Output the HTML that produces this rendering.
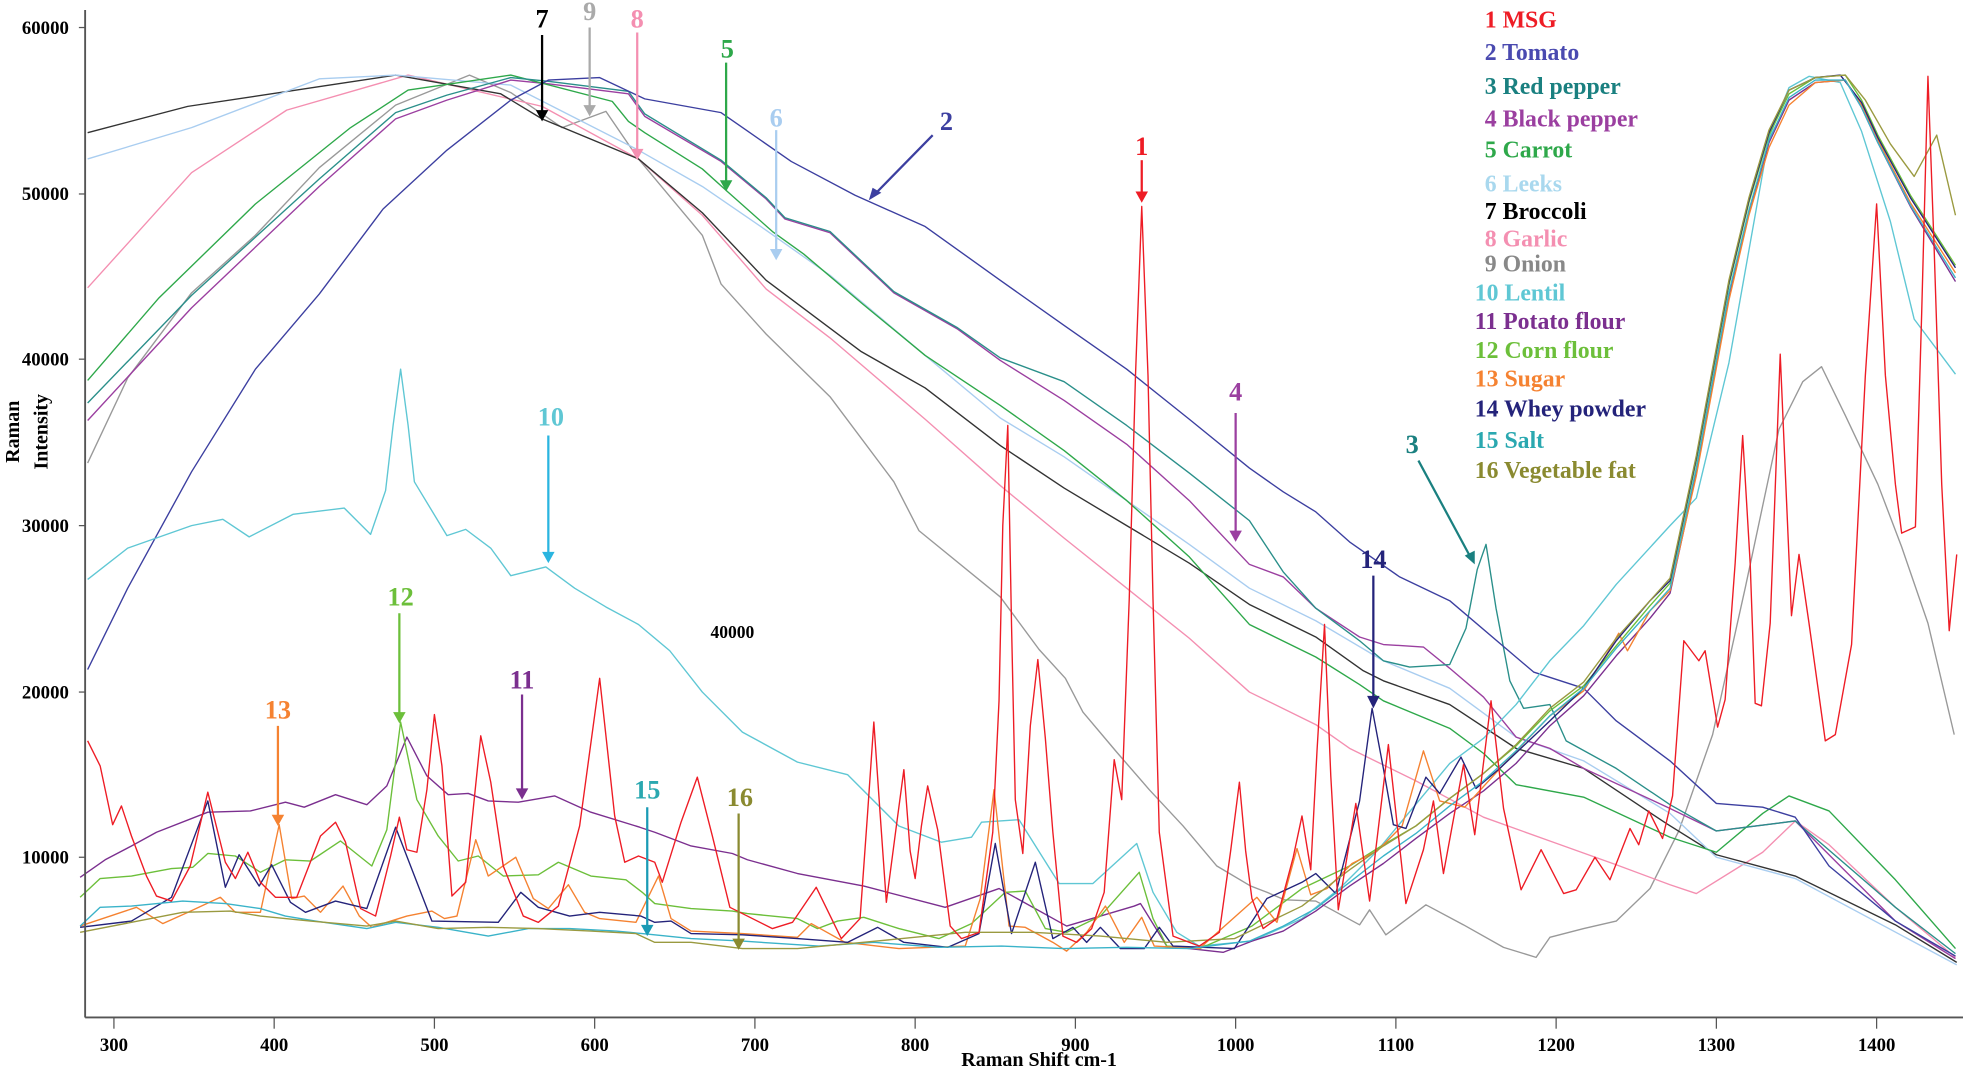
<!DOCTYPE html>
<html><head><meta charset="utf-8"><style>
html,body{margin:0;padding:0;background:#fff;}
svg{display:block;}
text{font-family:"Liberation Serif",serif;font-weight:bold;}
</style></head><body>
<svg width="1963" height="1070" viewBox="0 0 1568 855" preserveAspectRatio="none" xmlns="http://www.w3.org/2000/svg">
<rect width="1568" height="855" fill="#fff"/>
<g fill="none" stroke-width="1.1" stroke-linejoin="round">
<!-- Onion gray -->
<polyline stroke="#999" points="70,370 102,302 153,234 204,188 255,134 316,84 375,60 408,74 449,102 484,89 510,127 561,188 576,227 612,267 663,317 714,385 734,424 799,477 830,519 851,542 865,569 892,601 918,631 945,660 972,692 999,708 1012,713 1026,719 1051,720 1086,739 1094,727 1107,747 1139,723 1169,739 1201,757 1227,765 1238,749 1265,742 1291,736 1318,710 1341,664 1368,587 1394,470 1421,343 1440,305 1455,293 1474,332 1500,387 1519,437 1540,498 1561,587"/>
<!-- Garlic pink -->
<polyline stroke="#f48fb1" points="70,230 153,138 229,88 326,60 433,85 510,127 561,172 612,231 663,270 739,335 799,388 850,430 900,470 950,510 998,553 1051,579 1078,598 1131,624 1185,653 1238,672 1291,691 1334,707 1355,714 1408,681 1434,656 1461,675 1514,725 1562,765"/>
<!-- Broccoli black -->
<polyline stroke="#333" points="70,106 150,85 250,70 316,60 400,75 433,95 510,127 561,170 612,224 688,281 739,310 799,356 850,390 900,420 950,450 998,483 1051,509 1089,536 1105,544 1158,563 1211,598 1265,614 1331,658 1371,683 1434,700 1514,739 1563,769"/>
<!-- Leeks light blue -->
<polyline stroke="#a9cdf0" points="70,127 153,102 255,63 316,60 408,68 510,120 561,149 612,184 663,220 739,284 799,334 850,365 900,400 950,435 998,470 1051,496 1105,528 1158,550 1211,589 1265,608 1334,650 1371,685 1434,702 1563,771"/>
<!-- Black pepper purple -->
<polyline stroke="#9b3fa0" points="70,336 153,246 255,149 316,95 357,80 408,64 438,67 502,75 515,93 576,129 612,159 627,175 663,186 714,234 765,263 799,288 850,320 900,355 950,400 998,451 1025,461 1051,486 1086,509 1105,515 1137,517 1158,534 1185,557 1211,589 1238,598 1265,614 1334,646 1371,664 1434,656 1514,736 1562,766"/>
<!-- Carrot green -->
<polyline stroke="#2ea84a" points="70,304 127,238 204,163 280,102 326,72 408,60 489,81 502,97 515,106 561,135 581,153 617,185 642,203 688,242 739,284 799,324 850,360 900,400 950,445 998,499 1051,525 1086,547 1105,560 1158,582 1185,602 1211,627 1265,637 1334,669 1371,681 1408,650 1429,636 1461,648 1514,703 1562,758"/>
<!-- Red pepper teal -->
<polyline stroke="#2a8f8a" points="70,322 153,236 255,143 316,90 357,76 408,62 438,65 502,73 515,91 576,128 612,158 627,174 663,185 714,233 765,262 799,286 850,305 900,340 950,378 998,416 1025,457 1051,486 1086,512 1105,528 1126,533 1158,531 1171,502 1180,455 1187,435 1195,486 1206,544 1217,566 1238,563 1251,592 1291,614 1334,643 1371,664 1434,656 1514,725 1562,762"/>
<!-- Tomato dark blue -->
<polyline stroke="#3c3fa0" points="70,535 102,470 153,377 204,295 255,235 306,167 357,120 408,80 438,64 479,62 515,79 576,90 632,129 683,156 739,181 799,224 850,260 900,295 950,335 998,374 1025,393 1051,409 1078,433 1118,461 1158,480 1225,537 1265,550 1291,576 1334,608 1371,642 1408,645 1434,653 1461,692 1514,736 1562,764"/>
<!-- Lentil cyan -->
<polyline stroke="#5fc7d4" points="70,463 102,438 153,420 178,415 199,429 234,411 275,406 296,427 308,392 314,340 320,295 326,340 331,385 357,428 372,423 392,438 408,460 436,453 459,470 484,485 510,499 535,520 561,553 593,585 637,609 677,619 718,660 752,673 776,669 784,657 814,655 846,706 873,706 908,674 921,713 940,745 958,756 1000,752 1040,734 1070,710 1100,680 1158,610 1185,590 1211,563 1238,528 1265,500 1291,467 1334,420 1355,398 1381,290 1397,200 1413,110 1429,70 1445,61 1470,66 1487,105 1510,177 1529,255 1562,299"/>
<!-- Potato flour purple -->
<polyline stroke="#7b2f8f" points="64,701 84,687 105,676 125,665 166,649 200,648 228,641 243,645 268,635 293,643 309,628 325,589 341,620 358,635 374,634 390,640 414,641 443,636 472,649 511,661 523,665 552,676 585,682 597,687 637,698 690,708 709,713 755,725 798,710 852,740 906,724 911,722 932,756 977,761 1000,752 1025,744 1051,728 1078,708 1105,690 1131,670 1158,650 1185,632 1211,610 1238,580 1265,556 1291,524 1318,494 1334,474 1355,378 1381,236 1397,170 1413,114 1429,80 1450,66 1474,64 1487,86 1500,114 1526,165 1562,225"/>
<!-- Corn flour green -->
<polyline stroke="#6cbf3a" points="64,717 80,702 105,700 137,694 154,693 166,682 188,684 208,697 228,687 248,688 272,672 297,692 309,663 320,577 333,639 350,668 366,688 382,684 402,700 430,699 446,689 472,700 500,703 513,713 523,722 552,726 585,728 597,730 637,734 653,742 669,736 690,733 718,742 750,750 776,738 803,713 819,712 835,742 852,745 879,732 910,697 921,734 932,756 958,758 1000,740 1040,710 1078,692 1105,675 1131,660 1158,638 1185,618 1211,596 1238,568 1265,548 1291,516 1318,484 1334,466 1355,368 1381,228 1397,162 1413,108 1429,75 1450,62 1474,60 1487,80 1500,108 1526,156 1562,212"/>
<!-- Sugar orange -->
<polyline stroke="#f58231" points="64,740 109,725 130,738 150,729 176,717 188,729 208,729 223,659 233,718 243,716 256,729 274,708 287,732 297,741 309,737 325,732 345,728 355,734 365,732 380,671 390,700 412,685 426,718 438,726 454,707 467,729 479,734 508,737 526,700 536,734 552,744 593,746 637,749 648,738 675,753 718,758 771,756 783,718 794,631 806,740 819,741 841,753 852,760 868,745 883,724 898,753 912,733 922,756 958,758 1004,717 1020,737 1036,678 1047,715 1060,710 1080,690 1100,680 1120,660 1137,600 1150,640 1170,645 1200,612 1238,572 1265,552 1285,520 1293,506 1300,520 1318,488 1334,472 1355,380 1381,240 1397,172 1413,118 1429,84 1450,66 1474,64 1487,84 1500,112 1526,162 1562,218"/>
<!-- Whey navy -->
<polyline stroke="#24237a" points="64,741 105,736 137,717 166,640 180,709 191,683 207,708 217,691 232,721 244,729 268,720 293,726 316,661 333,705 345,736 398,737 416,713 430,725 455,732 479,729 512,732 523,737 536,736 552,746 593,747 637,750 677,753 701,741 722,753 757,757 782,746 795,674 808,746 827,689 841,750 857,741 868,753 879,741 895,758 914,758 926,741 937,756 986,758 1012,718 1040,705 1051,698 1067,714 1086,640 1096,566 1105,614 1113,659 1123,662 1139,621 1150,634 1167,605 1179,630 1198,614 1238,576 1265,550 1291,512 1318,480 1334,464 1355,366 1381,226 1397,160 1413,106 1429,72 1450,62 1470,60 1487,82 1500,110 1526,158 1562,214"/>
<!-- Salt sky blue -->
<polyline stroke="#3ab3c9" points="64,740 80,725 105,724 146,720 180,722 208,726 228,732 252,736 293,742 316,737 350,741 390,748 422,742 455,742 492,744 513,746 552,750 593,752 654,756 698,753 750,757 800,756 850,758 900,757 950,758 998,752 1025,740 1051,726 1078,705 1105,684 1131,666 1158,644 1185,624 1211,600 1238,572 1265,550 1291,518 1318,488 1334,470 1355,374 1381,234 1397,168 1413,112 1429,78 1450,64 1474,64 1487,86 1500,114 1526,164 1562,222"/>
<!-- Veg fat olive -->
<polyline stroke="#9a9a40" points="64,745 105,737 146,729 184,728 208,732 248,736 293,740 316,736 350,742 390,741 430,742 472,744 508,746 523,753 552,753 593,758 637,758 700,752 771,745 825,745 879,748 932,753 986,750 1040,724 1078,695 1105,676 1131,660 1158,638 1185,618 1211,595 1238,566 1265,545 1291,510 1318,480 1334,462 1355,364 1381,224 1397,158 1413,104 1429,72 1450,62 1474,60 1490,80 1510,115 1529,141 1547,108 1562,172"/>
<!-- MSG red -->
<polyline stroke="#ee1c25" points="70,592 80,612 90,659 97,644 105,668 117,700 125,716 137,720 152,692 166,633 180,689 188,702 198,681 208,705 220,717 237,717 256,668 268,657 276,673 288,726 300,732 312,684 319,653 325,679 333,681 341,631 347,571 353,612 361,716 372,705 384,588 392,625 402,692 418,732 430,737 446,724 463,660 479,542 491,652 499,689 510,684 523,689 529,705 544,657 557,621 569,668 583,725 597,732 617,742 633,737 652,709 672,750 687,734 693,650 698,577 703,650 708,721 716,660 722,615 727,680 731,702 736,660 741,628 749,663 759,740 768,750 782,745 793,665 798,560 801,420 805,340 808,500 811,639 817,682 823,580 829,527 835,590 841,665 849,748 860,753 872,742 882,713 890,607 896,639 902,479 907,300 912,165 917,300 921,479 926,665 937,748 958,756 974,745 983,680 990,625 995,680 1000,718 1009,742 1020,734 1033,685 1040,652 1047,695 1052,600 1058,499 1063,620 1069,727 1083,642 1094,720 1109,595 1123,722 1137,679 1145,640 1153,698 1169,611 1178,667 1191,560 1201,646 1215,711 1231,679 1249,714 1259,711 1274,685 1286,703 1302,662 1309,675 1317,648 1328,670 1336,636 1345,512 1357,528 1362,520 1372,581 1378,559 1386,450 1392,348 1398,450 1402,562 1407,564 1414,498 1422,283 1431,492 1437,443 1445,498 1458,592 1466,587 1479,515 1490,300 1499,163 1506,300 1514,387 1519,426 1530,421 1535,250 1540,61 1545,200 1551,387 1557,504 1563,443"/>
</g>
<!-- axes -->
<g stroke="#555" stroke-width="1.5" fill="none">
<line x1="68" y1="8" x2="68" y2="813"/>
<line x1="68" y1="813" x2="1568" y2="813"/>
</g>
<g stroke="#555" stroke-width="1">
<line x1="63" y1="22" x2="68" y2="22"/><line x1="63" y1="155" x2="68" y2="155"/><line x1="63" y1="287" x2="68" y2="287"/><line x1="63" y1="420" x2="68" y2="420"/><line x1="63" y1="553" x2="68" y2="553"/><line x1="63" y1="685" x2="68" y2="685"/>
<line x1="91" y1="813" x2="91" y2="822"/><line x1="219" y1="813" x2="219" y2="822"/><line x1="347" y1="813" x2="347" y2="822"/><line x1="475" y1="813" x2="475" y2="822"/><line x1="603" y1="813" x2="603" y2="822"/><line x1="731" y1="813" x2="731" y2="822"/><line x1="859" y1="813" x2="859" y2="822"/><line x1="987" y1="813" x2="987" y2="822"/><line x1="1115" y1="813" x2="1115" y2="822"/><line x1="1243" y1="813" x2="1243" y2="822"/><line x1="1371" y1="813" x2="1371" y2="822"/><line x1="1499" y1="813" x2="1499" y2="822"/>
</g>
<g font-size="15" fill="#000" text-anchor="end">
<text x="55" y="27">60000</text><text x="55" y="160">50000</text><text x="55" y="292">40000</text><text x="55" y="425">30000</text><text x="55" y="558">20000</text><text x="55" y="690">10000</text>
</g>
<g font-size="15" fill="#000" text-anchor="middle">
<text x="91" y="840">300</text><text x="219" y="840">400</text><text x="347" y="840">500</text><text x="475" y="840">600</text><text x="603" y="840">700</text><text x="731" y="840">800</text><text x="859" y="840">900</text><text x="987" y="840">1000</text><text x="1115" y="840">1100</text><text x="1243" y="840">1200</text><text x="1371" y="840">1300</text><text x="1499" y="840">1400</text>
<text x="830" y="852" font-size="16">Raman Shift cm-1</text>
</g>
<text transform="translate(15,345) rotate(-90)" font-size="16" text-anchor="middle">Raman</text>
<text transform="translate(38,345) rotate(-90)" font-size="16" text-anchor="middle">Intensity</text>
<text x="585" y="510" font-size="14" text-anchor="middle">40000</text>
<!-- arrows and labels -->
<g stroke-width="1.8" fill="none">
<line x1="433" y1="28" x2="433" y2="92" stroke="#000"/>
<line x1="471" y1="22" x2="471" y2="88" stroke="#aaa"/>
<line x1="509" y1="26" x2="509" y2="123" stroke="#f48fb1"/>
<line x1="580" y1="50" x2="580" y2="148" stroke="#2ea84a"/>
<line x1="620" y1="104" x2="620" y2="203" stroke="#a9cdf0"/>
<line x1="745" y1="108" x2="698" y2="156" stroke="#3c3fa0"/>
<line x1="912" y1="128" x2="912" y2="157" stroke="#ee1c25"/>
<line x1="987" y1="330" x2="987" y2="428" stroke="#9b3fa0"/>
<line x1="1133" y1="368" x2="1175" y2="446" stroke="#1a8080"/>
<line x1="1097" y1="460" x2="1097" y2="560" stroke="#24237a"/>
<line x1="438" y1="348" x2="438" y2="445" stroke="#2ab5e0"/>
<line x1="319" y1="490" x2="319" y2="573" stroke="#6cbf3a"/>
<line x1="417" y1="555" x2="417" y2="634" stroke="#7b2f8f"/>
<line x1="222" y1="580" x2="222" y2="655" stroke="#f58231"/>
<line x1="517" y1="645" x2="517" y2="743" stroke="#1a9bb5"/>
<line x1="590" y1="650" x2="590" y2="754" stroke="#8a8a30"/>
</g>
<g stroke="none">
<polygon fill="#000" points="428,88 438,88 433,97"/>
<polygon fill="#aaa" points="466,84 476,84 471,93"/>
<polygon fill="#f48fb1" points="504,119 514,119 509,128"/>
<polygon fill="#2ea84a" points="575,144 585,144 580,153"/>
<polygon fill="#a9cdf0" points="615,199 625,199 620,208"/>
<polygon fill="#3c3fa0" points="694,160 697,150 704,154"/>
<polygon fill="#ee1c25" points="907,153 917,153 912,162"/>
<polygon fill="#9b3fa0" points="982,424 992,424 987,433"/>
<polygon fill="#1a8080" points="1170,444 1178,440 1178,451"/>
<polygon fill="#24237a" points="1092,556 1102,556 1097,566"/>
<polygon fill="#2ab5e0" points="433,441 443,441 438,450"/>
<polygon fill="#6cbf3a" points="314,569 324,569 319,578"/>
<polygon fill="#7b2f8f" points="412,630 422,630 417,639"/>
<polygon fill="#f58231" points="217,651 227,651 222,660"/>
<polygon fill="#1a9bb5" points="512,739 522,739 517,748"/>
<polygon fill="#8a8a30" points="585,750 595,750 590,759"/>
</g>
<g font-size="21" text-anchor="middle">
<text x="433" y="22" fill="#000">7</text>
<text x="471" y="16" fill="#aaa">9</text>
<text x="509" y="22" fill="#f48fb1">8</text>
<text x="581" y="46" fill="#2ea84a">5</text>
<text x="620" y="101" fill="#a9cdf0">6</text>
<text x="756" y="104" fill="#3c3fa0">2</text>
<text x="912" y="124" fill="#ee1c25">1</text>
<text x="987" y="320" fill="#9b3fa0">4</text>
<text x="1128" y="362" fill="#1a8080">3</text>
<text x="1097" y="454" fill="#24237a">14</text>
<text x="440" y="340" fill="#5fc7d4">10</text>
<text x="320" y="484" fill="#6cbf3a">12</text>
<text x="417" y="550" fill="#7b2f8f">11</text>
<text x="222" y="574" fill="#f58231">13</text>
<text x="517" y="638" fill="#2aa8b0">15</text>
<text x="591" y="644" fill="#8a8a30">16</text>
</g>
<!-- legend -->
<g font-size="19">
<text x="1186" y="22" fill="#ee1c25">1 MSG</text>
<text x="1186" y="48" fill="#4a4ab0">2 Tomato</text>
<text x="1186" y="75" fill="#1a8080">3 Red pepper</text>
<text x="1186" y="101" fill="#9b3fa0">4 Black pepper</text>
<text x="1186" y="126" fill="#2ea84a">5 Carrot</text>
<text x="1186" y="153" fill="#a9d8ee">6 Leeks</text>
<text x="1186" y="175" fill="#000">7 Broccoli</text>
<text x="1186" y="197" fill="#f48fb1">8 Garlic</text>
<text x="1186" y="217" fill="#888">9 Onion</text>
<text x="1178" y="240" fill="#5fc7d4">10 Lentil</text>
<text x="1178" y="263" fill="#7b2f8f">11 Potato flour</text>
<text x="1178" y="286" fill="#6cbf3a">12 Corn flour</text>
<text x="1178" y="309" fill="#f58231">13 Sugar</text>
<text x="1178" y="333" fill="#24237a">14 Whey powder</text>
<text x="1178" y="358" fill="#2aa8b0">15 Salt</text>
<text x="1178" y="382" fill="#8a8a30">16 Vegetable fat</text>
</g>
</svg>
</body></html>
